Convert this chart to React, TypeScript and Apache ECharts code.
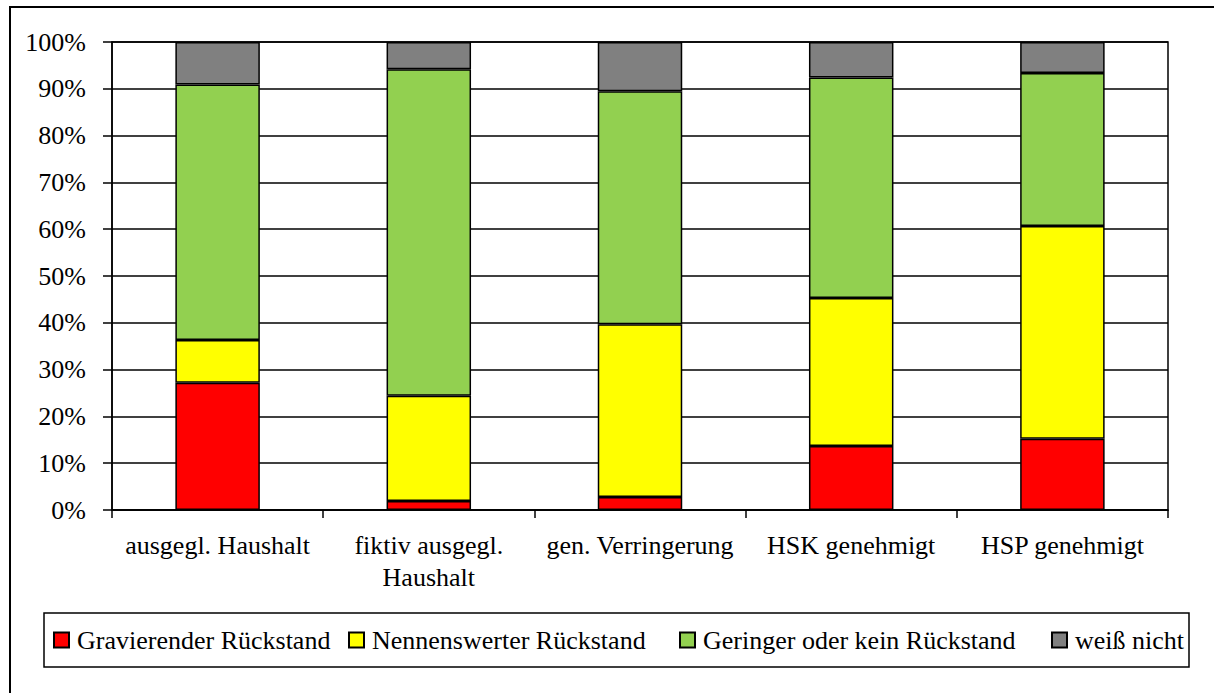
import React, { useEffect, useRef } from "react";
import * as echarts from "echarts";

const categories = [
  "ausgegl. Haushalt",
  "fiktiv ausgegl.\nHaushalt",
  "gen. Verringerung",
  "HSK genehmigt",
  "HSP genehmigt",
];
const seriesNames = [
  "Gravierender Rückstand",
  "Nennenswerter Rückstand",
  "Geringer oder kein Rückstand",
  "weiß nicht",
];
const gravierend = [27.2, 1.9, 2.8, 13.7, 15.2];
const nennenswert = [9.1, 22.5, 36.9, 31.6, 45.5];
const gering = [54.6, 69.8, 49.8, 47.1, 32.7];
const weissNicht = [9.1, 5.8, 10.5, 7.6, 6.6];
const colors = ["#FF0000", "#FFFF00", "#92D050", "#808080"];
const legendLefts = [53, 348, 679, 1051];

const FONT = "'Liberation Serif', 'Times New Roman', serif";
const FS = 26;

export default function App() {
  const ref = useRef<HTMLDivElement>(null);
  useEffect(() => {
    if (!ref.current) return;
    const chart = echarts.init(ref.current, null, { renderer: "svg" });
    const data = [gravierend, nennenswert, gering, weissNicht];
    chart.setOption({
      animation: false,
      backgroundColor: "#ffffff",
      textStyle: { fontFamily: FONT, color: "#000" },
      grid: {
        left: 112,
        right: 46,
        top: 42,
        bottom: 183,
        show: true,
        borderColor: "#000",
        borderWidth: 1.5,
        containLabel: false,
      },
      graphic: [
        {
          type: "rect",
          shape: { x: 10, y: 7, width: 1400, height: 1000 },
          style: { fill: "none", stroke: "#000", lineWidth: 2 },
          silent: true,
        },
        {
          type: "rect",
          shape: { x: 44, y: 613, width: 1145, height: 54 },
          style: { fill: "none", stroke: "#000", lineWidth: 1.5 },
          silent: true,
          z: 10,
        },
      ],
      legend: seriesNames.map((name, i) => ({
        left: legendLefts[i],
        top: 627,
        itemWidth: 15,
        itemHeight: 15,
        padding: 0,
        icon: "rect",
        data: [name],
        textStyle: {
          fontFamily: FONT,
          fontSize: FS,
          color: "#000",
          padding: [0, 0, 0, 3],
        },
      })),
      xAxis: {
        type: "category",
        data: categories,
        axisLine: { lineStyle: { color: "#000", width: 1.5 } },
        axisTick: { show: true, length: 8, lineStyle: { color: "#000", width: 1.5 } },
        axisLabel: {
          fontFamily: FONT,
          fontSize: FS,
          color: "#000",
          margin: 19,
          lineHeight: 32,
          interval: 0,
        },
      },
      yAxis: {
        type: "value",
        min: 0,
        max: 100,
        interval: 10,
        axisLine: { show: true, lineStyle: { color: "#000", width: 1.5 } },
        axisTick: { show: true, length: 9, lineStyle: { color: "#000", width: 1.5 } },
        splitLine: { show: true, lineStyle: { color: "#000", width: 1.5 } },
        axisLabel: {
          fontFamily: FONT,
          fontSize: FS,
          color: "#000",
          margin: 26,
          formatter: "{value}%",
        },
      },
      series: seriesNames.map((name, i) => ({
        name,
        type: "bar",
        stack: "total",
        barWidth: "40%",
        data: data[i],
        itemStyle: { color: colors[i], borderColor: "#000", borderWidth: 1.5 },
      })),
    });
    return () => chart.dispose();
  }, []);
  return (
    <div
      ref={ref}
      style={{ position: "fixed", left: 0, top: 0, width: 1214, height: 693, background: "#fff" }}
    />
  );
}
